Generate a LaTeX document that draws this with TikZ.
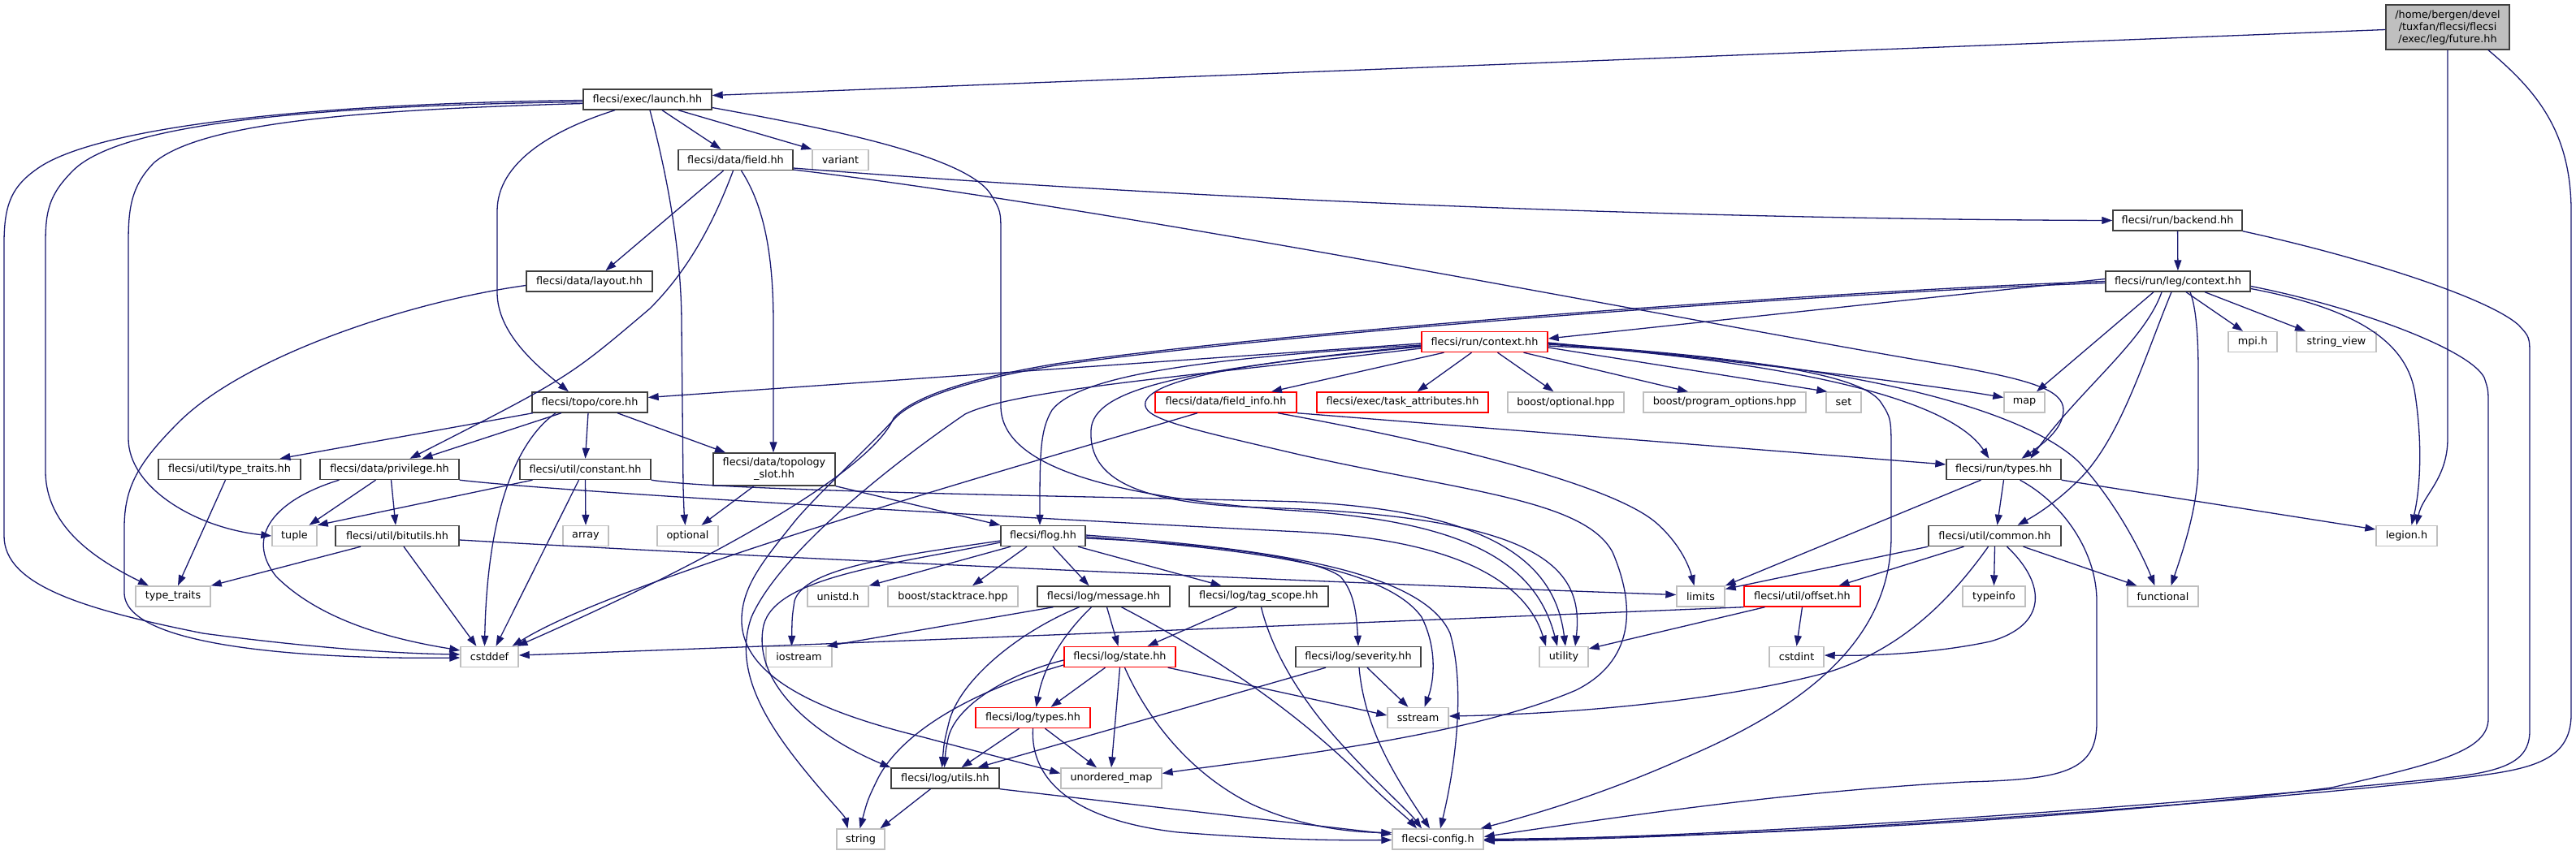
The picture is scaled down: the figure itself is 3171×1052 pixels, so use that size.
\documentclass[tikz,border=0pt]{standalone}
\usepackage{fontspec}
\setmainfont{DejaVu Sans}
\usetikzlibrary{arrows.meta}
\definecolor{edgec}{HTML}{191970}
\definecolor{docb}{HTML}{404040}
\definecolor{extb}{HTML}{BFBFBF}
\definecolor{rootf}{HTML}{BFBFBF}
\definecolor{redb}{HTML}{FF0000}
\begin{document}
\begin{tikzpicture}[x=1pt,y=-1pt,
  nbox/.style={rectangle, inner xsep=0pt, inner ysep=0pt, minimum height=25pt, line width=1.4pt, fill=white, font=\fontsize{12.8}{15}\selectfont, align=center},
  doc/.style={nbox, draw=docb},
  ext/.style={nbox, draw=extb},
  redn/.style={nbox, draw=redb},
  rootn/.style={nbox, draw=docb, fill=rootf, minimum height=55pt},
  dep/.style={draw=edgec, line width=1.3pt, -{Triangle[length=13pt,width=9pt]}}
]
\fill[white] (0,0) rectangle (3171,1052);
\useasboundingbox (0,0) rectangle (3171,1052);

% ---------- nodes ----------
\node[rootn, minimum width=152pt] (future) at (3013,33.5) {/home/bergen/devel\\/tuxfan/flecsi/flecsi\\/exec/leg/future.hh};
\node[doc, minimum width=158pt] (launch) at (797,122.5) {flecsi/exec/launch.hh};
\node[doc, minimum width=141pt] (field) at (905.5,197) {flecsi/data/field.hh};
\node[ext, minimum width=69pt] (variant) at (1034.5,197) {variant};
\node[doc, minimum width=159pt] (backend) at (2680.5,271.5) {flecsi/run/backend.hh};
\node[doc, minimum width=155pt] (layout) at (725.5,346.5) {flecsi/data/layout.hh};
\node[doc, minimum width=178pt] (legctx) at (2681,346.5) {flecsi/run/leg/context.hh};
\node[redn, minimum width=155pt] (runctx) at (1827.5,421) {flecsi/run/context.hh};
\node[ext, minimum width=60pt] (mpi) at (2773,421) {mpi.h};
\node[ext, minimum width=98pt] (strview) at (2876,421) {string\_view};
\node[doc, minimum width=142pt] (core) at (726,495.5) {flecsi/topo/core.hh};
\node[redn, minimum width=174pt] (finfo) at (1509,495.5) {flecsi/data/field\_info.hh};
\node[redn, minimum width=211pt] (taskattr) at (1726.5,495.5) {flecsi/exec/task\_attributes.hh};
\node[ext, minimum width=143pt] (boostopt) at (1927.5,495.5) {boost/optional.hpp};
\node[ext, minimum width=200pt] (progopt) at (2123,495.5) {boost/program\_options.hpp};
\node[ext, minimum width=43pt] (set) at (2269.5,495.5) {set};
\node[ext, minimum width=50pt] (map) at (2492,495.5) {map};
\node[doc, minimum width=175pt] (utt) at (282.5,578) {flecsi/util/type\_traits.hh};
\node[doc, minimum width=171pt] (priv) at (479.5,578) {flecsi/data/privilege.hh};
\node[doc, minimum width=161pt] (const) at (720.5,578) {flecsi/util/constant.hh};
\node[doc, minimum width=150pt, minimum height=40pt] (topo) at (953,578) {flecsi/data/topology\\\_slot.hh};
\node[doc, minimum width=141pt] (runtypes) at (2466.5,578) {flecsi/run/types.hh};
\node[ext, minimum width=55pt] (tuple) at (362.5,660) {tuple};
\node[doc, minimum width=152pt] (bitutils) at (489,660) {flecsi/util/bitutils.hh};
\node[ext, minimum width=56pt] (array) at (721,660) {array};
\node[ext, minimum width=75pt] (optional) at (846.5,660) {optional};
\node[doc, minimum width=104pt] (flog) at (1284,660) {flecsi/flog.hh};
\node[doc, minimum width=163pt] (common) at (2455.5,660) {flecsi/util/common.hh};
\node[ext, minimum width=75pt] (legion) at (2962.5,660) {legion.h};
\node[ext, minimum width=92pt] (tt) at (213,734.5) {type\_traits};
\node[ext, minimum width=75pt] (unistd) at (1031.5,734.5) {unistd.h};
\node[ext, minimum width=160pt] (stacktrace) at (1173,734.5) {boost/stacktrace.hpp};
\node[doc, minimum width=163pt] (message) at (1358.5,734.5) {flecsi/log/message.hh};
\node[doc, minimum width=171pt] (tagscope) at (1549.5,734.5) {flecsi/log/tag\_scope.hh};
\node[ext, minimum width=59pt] (limits) at (2093.5,734.5) {limits};
\node[redn, minimum width=143pt] (offset) at (2218.5,734.5) {flecsi/util/offset.hh};
\node[ext, minimum width=77pt] (typeinfo) at (2454.5,734.5) {typeinfo};
\node[ext, minimum width=87pt] (functional) at (2662.5,734.5) {functional};
\node[ext, minimum width=71pt] (cstddef) at (602.5,809) {cstddef};
\node[ext, minimum width=81pt] (iostream) at (983.5,809) {iostream};
\node[redn, minimum width=137pt] (state) at (1378.5,809) {flecsi/log/state.hh};
\node[doc, minimum width=154pt] (severity) at (1672,809) {flecsi/log/severity.hh};
\node[ext, minimum width=60pt] (utility) at (1925,809) {utility};
\node[ext, minimum width=67pt] (cstdint) at (2211.5,809) {cstdint};
\node[redn, minimum width=141pt] (ltypes) at (1271.5,884) {flecsi/log/types.hh};
\node[ext, minimum width=75pt] (sstream) at (1745.5,884) {sstream};
\node[doc, minimum width=133pt] (utils) at (1163.5,958.5) {flecsi/log/utils.hh};
\node[ext, minimum width=124pt] (umap) at (1368,958.5) {unordered\_map};
\node[ext, minimum width=59pt] (string) at (1059.5,1033.5) {string};
\node[ext, minimum width=112pt] (config) at (1770,1033.5) {flecsi-config.h};

% ---------- future ----------
\draw[dep] ([yshift=-3pt]future.west) -- ([yshift=5pt]launch.east);
\draw[dep] (future.south) -- (3013,540) .. controls (3013,590) and (2982,610) .. ([xshift=12pt]legion.north);
\draw[dep] ([xshift=50pt]future.south) .. controls (3120,110) and (3165,160) .. (3165,260) -- (3165,880) .. controls (3165,940) and (3110,948) .. (3030,958) .. controls (2800,985) and (2200,1032) .. ([yshift=-2pt]config.east);

% ---------- backend ----------
\draw[dep] (backend) -- (legctx);
\draw[dep] (backend.south east) .. controls (2900,315) and (3060,365) .. (3100,400) .. controls (3114,415) .. (3114,440) -- (3114,900) .. controls (3114,940) and (3080,952) .. (2990,960) .. controls (2800,980) and (2200,1030) .. ([yshift=-1pt]config.east);

% ---------- leg/context ----------
\draw[dep] ([yshift=3pt]legctx.west) -- ([yshift=4pt]runctx.east);
\draw[dep] (legctx.west) .. controls (2300,356) and (1600,405) .. (1300,448) .. controls (1180,468) and (1120,492) .. (1100,515) .. controls (1075,575) and (900,680) .. ([xshift=34pt]cstddef.north);
\draw[dep] ([yshift=-2pt]legctx.west) .. controls (2300,358) and (1600,407) .. (1300,450) .. controls (1180,470) and (1120,494) .. (1100,517) .. controls (1060,560) and (1010,605) .. (980,640) .. controls (940,690) and (915,720) .. (913,760) .. controls (910,830) and (1000,875) .. (1137,908) .. controls (1200,925) and (1260,940) .. ([yshift=6pt]umap.west);
\draw[dep] ([xshift=-20pt]legctx.south) .. controls (2640,420) and (2560,480) .. ([xshift=33pt]runtypes.north);
\draw[dep] ([xshift=-8pt]legctx.south) .. controls (2640,440) and (2610,540) .. (2560,590) .. controls (2530,620) and (2505,635) .. ([xshift=28pt]common.north);
\draw[dep] ([xshift=-30pt]legctx.south) -- ([xshift=15pt]map.north);
\draw[dep] ([xshift=15pt]legctx.south) .. controls (2704,380) and (2706,420) .. (2706,460) -- (2706,570) .. controls (2706,620) and (2690,670) .. ([xshift=10pt]functional.north);
\draw[dep] ([xshift=10pt]legctx.south) -- ([xshift=-12pt]mpi.north);
\draw[dep] ([xshift=33pt]legctx.south) -- ([xshift=-38pt]strview.north);
\draw[dep] ([yshift=-6pt]legctx.east) .. controls (2900,378) and (3040,430) .. (3058,465) .. controls (3063,480) .. (3063,500) -- (3063,885) .. controls (3063,925) and (3000,940) .. (2870,970) .. controls (2600,1005) and (2200,1030) .. (config.east);
\draw[dep] ([yshift=-9pt]legctx.east) .. controls (2900,380) and (2960,420) .. (2972,480) .. controls (2982,540) and (2980,600) .. ([xshift=6pt]legion.north);

% ---------- run/context ----------
\draw[dep] ([xshift=-50pt]runctx.south) -- ([xshift=56pt]finfo.north);
\draw[dep] ([xshift=-16pt]runctx.south) -- ([xshift=18pt]taskattr.north);
\draw[dep] ([xshift=16pt]runctx.south) -- ([xshift=-15pt]boostopt.north);
\draw[dep] ([xshift=48pt]runctx.south) -- ([xshift=-45pt]progopt.north);
\draw[dep] ([yshift=-7pt]runctx.east) -- ([xshift=2pt]set.north west);
\draw[dep] ([yshift=-1pt]runctx.east) .. controls (2100,440) and (2350,470) .. ([yshift=6pt]map.west);
\draw[dep] ([yshift=-3pt]runctx.east) .. controls (2200,445) and (2400,490) .. ([xshift=-18pt]runtypes.north);
\draw[dep] ([yshift=-5pt]runctx.east) .. controls (2300,445) and (2500,510) .. (2560,570) .. controls (2610,625) and (2640,690) .. ([xshift=-10pt]functional.north);
\draw[dep] ([yshift=-2pt]runctx.east) .. controls (2150,440) and (2290,460) .. (2315,495) .. controls (2328,515) .. (2328,560) -- (2328,660) .. controls (2328,800) and (2200,880) .. (2070,935) .. controls (1980,975) and (1900,1000) .. ([xshift=-4pt]config.north east);
\draw[dep] ([yshift=-2pt]runctx.west) -- ([yshift=6pt]core.east);
\draw[dep] ([yshift=-4pt]runctx.west) .. controls (1500,440) and (1330,460) .. (1295,505) .. controls (1280,530) and (1280,560) .. ([xshift=-4pt]flog.north);
\draw[dep] ([yshift=-6pt]runctx.west) .. controls (1450,455) and (1345,480) .. (1343,530) .. controls (1340,590) and (1400,620) .. (1550,625) .. controls (1900,635) and (1950,700) .. ([xshift=14pt]utility.north);
\draw[dep] ([yshift=-8pt]runctx.west) .. controls (1450,465) and (1250,480) .. (1188,510) .. controls (1100,570) and (960,680) .. (925,760) .. controls (900,830) and (950,900) .. (1000,960) .. controls (1025,990) and (1040,1005) .. ([xshift=-16pt]string.north);
\draw[dep] ([yshift=-5pt]runctx.west) .. controls (1550,445) and (1420,465) .. (1410,495) .. controls (1405,515) and (1450,525) .. (1600,560) .. controls (1800,605) and (1950,615) .. (1985,680) .. controls (2015,750) and (2010,815) .. (1940,850) .. controls (1800,910) and (1550,935) .. ([yshift=6pt]umap.east);

% ---------- launch ----------
\draw[dep] ([xshift=18pt]launch.south) -- ([xshift=-18pt]field.north);
\draw[dep] ([xshift=38pt]launch.south) -- (variant.north west);
\draw[dep] ([xshift=-40pt]launch.south) .. controls (680,160) and (612,200) .. (612,260) -- (612,360) .. controls (612,410) and (660,450) .. ([xshift=-26pt]core.north);
\draw[dep] ([xshift=3pt]launch.south) .. controls (825,230) and (839,320) .. (839,400) -- (841,600) .. controls (842,630) .. ([xshift=-3pt]optional.north);
\draw[dep] ([yshift=-10pt]launch.east) .. controls (1000,155) and (1190,190) .. (1220,240) .. controls (1232,260) .. (1232,290) -- (1232,500) .. controls (1232,570) and (1350,610) .. (1580,628) .. controls (1800,640) and (1890,690) .. ([xshift=-8pt]utility.north);
\draw[dep] ([yshift=-5pt]launch.west) .. controls (450,135) and (250,150) .. (190,200) .. controls (160,230) and (158,260) .. (158,300) -- (158,540) .. controls (158,600) and (240,650) .. (tuple.west);
\draw[dep] ([yshift=-3pt]launch.west) .. controls (400,130) and (150,150) .. (90,210) .. controls (60,240) and (56,260) .. (56,300) -- (56,580) .. controls (56,650) and (120,690) .. ([xshift=-30pt]tt.north);
\draw[dep] ([yshift=-1pt]launch.west) .. controls (350,128) and (120,160) .. (50,205) .. controls (15,228) and (5,250) .. (5,300) -- (5,660) .. controls (5,720) and (100,750) .. (250,780) .. controls (400,800) and (500,805) .. ([yshift=3pt]cstddef.west);

% ---------- field ----------
\draw[dep] ([xshift=-15pt]field.south) -- ([xshift=20pt]layout.north);
\draw[dep] ([xshift=-3pt]field.south) .. controls (880,270) and (850,330) .. (800,380) .. controls (700,465) .. ([xshift=25pt]priv.north);
\draw[dep] ([xshift=7pt]field.south) .. controls (945,260) and (952,330) .. (952,400) -- ([xshift=-1pt]topo.north);
\draw[dep] ([yshift=-10pt]field.east) .. controls (1500,248) and (2100,270) .. (backend.west);
\draw[dep] ([yshift=-12pt]field.east) .. controls (1400,260) and (2100,400) .. (2400,450) .. controls (2500,468) and (2540,480) .. (2540,505) .. controls (2540,530) and (2510,550) .. ([xshift=22pt]runtypes.north);

% ---------- layout ----------
\draw[dep] ([yshift=-5pt]layout.west) .. controls (500,372) and (300,440) .. (220,520) .. controls (170,570) and (153,600) .. (153,650) -- (153,730) .. controls (153,800) and (400,812) .. ([yshift=-1pt]cstddef.west);

% ---------- core ----------
\draw[dep] ([xshift=-70pt]core.south) -- ([xshift=62pt]utt.north);
\draw[dep] ([xshift=-35pt]core.south) -- ([xshift=40pt]priv.north);
\draw[dep] ([xshift=-2pt]core.south) -- (const.north);
\draw[dep] ([xshift=34pt]core.south) -- ([xshift=-60pt]topo.north);
\draw[dep] ([xshift=-42pt]core.south) .. controls (640,540) and (600,620) .. ([xshift=-6pt]cstddef.north);

% ---------- rank 7 ----------
\draw[dep] ([xshift=-5pt]utt.south) -- ([xshift=6pt]tt.north);
\draw[dep] ([xshift=-17pt]priv.south) -- ([xshift=18pt]tuple.north);
\draw[dep] ([xshift=2pt]priv.south) -- ([xshift=-2pt]bitutils.north);
\draw[dep] ([xshift=-62pt]priv.south) .. controls (340,615) and (300,660) .. (340,710) .. controls (400,770) and (500,790) .. ([yshift=8pt]cstddef.west);
\draw[dep] (priv.south east) .. controls (700,607) and (1300,640) .. (1600,655) .. controls (1800,665) and (1880,720) .. ([xshift=-22pt]utility.north);
\draw[dep] ([xshift=-65pt]const.south) -- (tuple.north east);
\draw[dep] (const.south) -- (array.north);
\draw[dep] ([xshift=-8pt]const.south) -- ([xshift=8pt]cstddef.north);
\draw[dep] (const.south east) .. controls (900,606) and (1400,612) .. (1600,618) .. controls (1850,630) and (1915,700) .. ([xshift=2pt]utility.north);
\draw[dep] ([xshift=-25pt]topo.south) -- ([xshift=17pt]optional.north);
\draw[dep] (topo.south east) -- (flog.north west);

% ---------- bitutils ----------
\draw[dep] ([xshift=-45pt]bitutils.south) -- (tt.north east);
\draw[dep] ([xshift=8pt]bitutils.south) -- ([xshift=-16pt]cstddef.north);
\draw[dep] ([yshift=-5pt]bitutils.east) .. controls (1000,690) and (1700,720) .. ([yshift=2pt]limits.west);

% ---------- field_info ----------
\draw[dep] ([xshift=-35pt]finfo.south) .. controls (1200,590) and (760,715) .. ([xshift=28pt]cstddef.north);
\draw[dep] ([xshift=64pt]finfo.south) .. controls (1800,550) and (1990,600) .. (2040,645) .. controls (2070,672) and (2080,700) .. ([xshift=-8pt]limits.north);
\draw[dep] (finfo.south east) -- ([yshift=6pt]runtypes.west);

% ---------- flog ----------
\draw[dep] ([xshift=-40pt]flog.south) -- (unistd.north east);
\draw[dep] ([xshift=-20pt]flog.south) -- ([xshift=24pt]stacktrace.north);
\draw[dep] ([xshift=12pt]flog.south) -- ([xshift=-18pt]message.north);
\draw[dep] ([xshift=43pt]flog.south) -- ([xshift=-46pt]tagscope.north);
\draw[dep] ([yshift=-6pt]flog.west) .. controls (1100,685) and (990,700) .. (978,740) .. controls (975,760) .. ([xshift=-9pt]iostream.north);
\draw[dep] ([yshift=-8pt]flog.west) .. controls (1100,695) and (955,710) .. (940,770) .. controls (925,840) and (1000,905) .. (utils.north west);
\draw[dep] ([yshift=-3pt]flog.east) .. controls (1500,670) and (1620,688) .. (1650,710) .. controls (1668,730) and (1670,760) .. (severity.north);
\draw[dep] ([yshift=-1pt]flog.east) .. controls (1500,675) and (1700,690) .. (1750,760) .. controls (1770,800) and (1765,840) .. ([xshift=8pt]sstream.north);
\draw[dep] ([yshift=1pt]flog.east) .. controls (1550,675) and (1750,700) .. (1785,780) .. controls (1805,850) and (1790,950) .. ([xshift=3pt]config.north);

% ---------- message ----------
\draw[dep] ([xshift=-62pt]message.south) -- ([xshift=-7pt]iostream.north east);
\draw[dep] ([xshift=-30pt]message.south) .. controls (1250,780) and (1180,840) .. (1168,890) .. controls (1162,915) .. ([xshift=-4pt]utils.north);
\draw[dep] ([xshift=-15pt]message.south) .. controls (1300,790) and (1283,830) .. ([xshift=4pt]ltypes.north);
\draw[dep] ([xshift=4pt]message.south) -- ([xshift=-2pt]state.north);
\draw[dep] ([xshift=22pt]message.south) .. controls (1500,810) and (1600,880) .. (1680,960) .. controls (1710,990) and (1730,1005) .. ([xshift=-26pt]config.north);

% ---------- tag_scope ----------
\draw[dep] ([xshift=-27pt]tagscope.south) -- ([xshift=34pt]state.north);
\draw[dep] ([xshift=3pt]tagscope.south) .. controls (1565,800) and (1600,860) .. (1650,915) .. controls (1700,970) and (1735,1000) .. ([xshift=-20pt]config.north);

% ---------- state ----------
\draw[dep] ([xshift=-18pt]state.south) -- ([xshift=22pt]ltypes.north);
\draw[dep] ([yshift=-4pt]state.west) .. controls (1240,830) and (1175,870) .. (1167,910) .. controls (1164,925) .. ([xshift=-1pt]utils.north);
\draw[dep] ([yshift=-10pt]state.west) .. controls (1200,850) and (1110,900) .. (1080,960) .. controls (1068,985) .. ([xshift=-1pt]string.north);
\draw[dep] (state.south) -- (umap.north);
\draw[dep] ([xshift=6pt]state.south) .. controls (1410,880) and (1460,950) .. (1540,990) .. controls (1600,1018) and (1660,1025) .. ([yshift=8pt]config.west);
\draw[dep] ([xshift=-10pt]state.south east) -- ([yshift=3pt]sstream.west);

% ---------- log/types ----------
\draw[dep] ([xshift=-17pt]ltypes.south) -- ([xshift=20pt]utils.north);
\draw[dep] ([xshift=15pt]ltypes.south) -- ([xshift=-18pt]umap.north);
\draw[dep] (ltypes.south) .. controls (1268,960) and (1320,1010) .. (1450,1025) .. controls (1580,1035) and (1650,1035) .. ([yshift=-1pt]config.west);

% ---------- utils ----------
\draw[dep] ([xshift=-18pt]utils.south) -- ([xshift=24pt]string.north);
\draw[dep] (utils.south east) -- ([yshift=6pt]config.west);

% ---------- severity ----------
\draw[dep] ([xshift=-40pt]severity.south) -- ([xshift=40pt]utils.north);
\draw[dep] ([xshift=11pt]severity.south) -- ([xshift=-12pt]sstream.north);
\draw[dep] ([xshift=1pt]severity.south) .. controls (1680,900) and (1720,960) .. ([xshift=-10pt]config.north);

% ---------- run/types ----------
\draw[dep] (runtypes.south) -- ([xshift=3pt]common.north);
\draw[dep] (runtypes.south east) -- ([yshift=8pt]legion.west);
\draw[dep] ([xshift=-28pt]runtypes.south) -- (limits.north east);
\draw[dep] ([xshift=20pt]runtypes.south) .. controls (2540,620) and (2581,680) .. (2581,740) -- (2581,890) .. controls (2581,950) and (2540,960) .. (2420,963) .. controls (2200,975) and (2000,1005) .. ([yshift=3pt]config.east);

% ---------- common ----------
\draw[dep] (common.south) -- (typeinfo.north);
\draw[dep] ([xshift=35pt]common.south) -- ([xshift=-32pt]functional.north);
\draw[dep] ([xshift=-38pt]common.south) -- ([xshift=45pt]offset.north);
\draw[dep] (common.south west) -- ([yshift=9pt]limits.east);
\draw[dep] ([xshift=15pt]common.south) .. controls (2520,720) and (2520,770) .. (2450,790) .. controls (2380,805) and (2300,808) .. ([yshift=2pt]cstdint.east);
\draw[dep] ([xshift=-8pt]common.south) .. controls (2400,740) and (2340,800) .. (2250,828) .. controls (2100,868) and (1900,880) .. ([yshift=2pt]sstream.east);

% ---------- offset ----------
\draw[dep] (offset.south) -- (cstdint.north);
\draw[dep] ([xshift=-46pt]offset.south) -- ([yshift=10pt]utility.east);
\draw[dep] (offset.south west) .. controls (1600,770) and (900,798) .. ([yshift=2pt]cstddef.east);
\end{tikzpicture}
\end{document}
